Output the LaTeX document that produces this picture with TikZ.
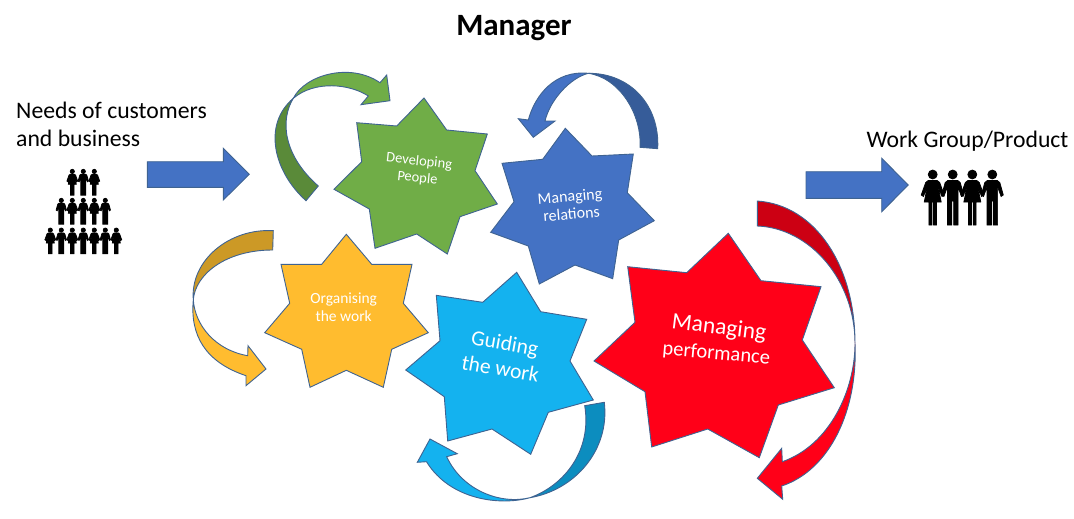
\documentclass[tikz,border=0pt]{standalone}
\usepackage{fontspec}
\setmainfont{Carlito}
\definecolor{edgeblue}{HTML}{3F6391}
\definecolor{leafgreen}{HTML}{70AD47}
\definecolor{leafdark}{HTML}{5A8A39}
\definecolor{seablue}{HTML}{4472C4}
\definecolor{seadark}{HTML}{365C99}
\definecolor{sunyellow}{HTML}{FFBC2F}
\definecolor{sundark}{HTML}{CC9926}
\definecolor{skyblue}{HTML}{14B2EF}
\definecolor{skydark}{HTML}{0C8DBF}
\definecolor{hotred}{HTML}{FF0018}
\definecolor{hotdark}{HTML}{CC0013}
\tikzset{
  shapeline/.style={draw=edgeblue,line width=0.9pt,line join=miter},
  label/.style={text=white,align=center,inner sep=0pt},
  crowd/.style={scale=0.47,line width=0.75pt},
  woman/.pic={
    \filldraw (0,4.5) circle (4.5);
    \filldraw (-4.5,10.5) -- (4.5,10.5) -- (7,12.5) -- (11.5,25) -- (9.3,26.5) -- (5.5,17) -- (8.5,32) -- (3.8,32)
      -- (3.8,55) -- (0.8,55) -- (0.8,32) -- (-0.8,32) -- (-0.8,55) -- (-3.8,55) -- (-3.8,32) -- (-8.5,32)
      -- (-5.5,17) -- (-9.3,26.5) -- (-11.5,25) -- (-7,12.5) -- cycle;
  },
  man/.pic={
    \filldraw (0,4.5) circle (4.5);
    \filldraw (-5,10.5) -- (5,10.5) -- (7.5,12.5) -- (11,25) -- (8.8,26.5) -- (5.3,17) -- (5.3,55) -- (0.9,55)
      -- (0.9,31) -- (-0.9,31) -- (-0.9,55) -- (-5.3,55) -- (-5.3,17) -- (-8.8,26.5) -- (-11,25) -- (-7.5,12.5) -- cycle;
  }
}
\begin{document}
\begin{tikzpicture}[x=1pt,y=-1pt]
\useasboundingbox (0,0) rectangle (1074,519);

\node[font=\fontsize{31}{33}\selectfont\bfseries] (title) at (514,28.5) {Manager};
\node[font=\fontsize{23.7}{28}\selectfont,align=left,anchor=west,inner sep=0pt] (needs) at (16,124) {Needs of customers\\and business};
\node[font=\fontsize{23.7}{28}\selectfont] (group) at (967.5,141) {Work Group/Product};

% straight arrows
\draw[shapeline,fill=seablue] (147.3,161.7) -- (223.3,161.7) -- (223.3,148.3) -- (249.3,174.3) -- (223.3,200) -- (223.3,187.3) -- (147.3,187.3) -- cycle;
\draw[shapeline,fill=seablue] (806,171.7) -- (881.7,171.7) -- (881.7,158.3) -- (908.3,185) -- (881.7,211.7) -- (881.7,198.3) -- (806,198.3) -- cycle;

% people
\foreach \x in {72.3,94.3} \pic[crowd] at (\x,169.3) {woman};
\foreach \x in {83.3} \pic[crowd] at (\x,169.3) {man};
\foreach \x in {72.3,94.3} \pic[crowd] at (\x,198.3) {woman};
\foreach \x in {61.3,83.3,105.3} \pic[crowd] at (\x,198.3) {man};
\foreach \x in {50.3,72.3,94.3,116.3} \pic[crowd] at (\x,228) {woman};
\foreach \x in {61.3,83.3,105.3} \pic[crowd] at (\x,228) {man};
\foreach \x in {932.7,972.3} \pic[line width=0.7pt] at (\x,170) {woman};
\foreach \x in {952.7,992.3} \pic[line width=0.7pt] at (\x,170) {man};

% green star and arrow
\draw[shapeline,fill=leafgreen] (424,98) -- (446.7,130) -- (487.3,134) -- (475,170.7) -- (497.3,204) -- (460,216.7) -- (447.3,254) -- (416.7,234) -- (375,248.3) -- (369.3,209) -- (334,189.3) -- (361.7,161.7) -- (356.7,122.7) -- (396.7,126) -- cycle;
\node[label,font=\fontsize{14.5}{17}\selectfont,rotate=-6] (people) at (418.3,170) {Developing\\People};
\draw[shapeline,fill=leafdark] (306,200.7) .. controls (274,172) and (262,125) .. (293.3,98.3) .. controls (280,120) and (283,155) .. (318.3,186) -- cycle;
\draw[shapeline,fill=leafgreen] (293.3,98.3) .. controls (305,75) and (350,62) .. (380,82.7) -- (386.7,75) -- (390,100.7) -- (361,104.7) -- (368.3,96) .. controls (350,84) and (315,80) .. (293.3,98.3) -- cycle;

% blue star and arrow
\draw[shapeline,fill=seablue] (565.3,128.3) -- (592,156) -- (633.3,154) -- (627.3,192.7) -- (654.3,220.7) -- (618.7,240) -- (612.7,278.7) -- (575,265) -- (539.3,284) -- (528.3,246) -- (490.7,232.3) -- (514,201.7) -- (502,163.3) -- (542.7,159.3) -- cycle;
\node[label,font=\fontsize{16}{18}\selectfont,rotate=5] (relations) at (570.7,205) {Managing\\relations};
\draw[shapeline,fill=seadark] (640,147.3) .. controls (642,115) and (620,78) .. (588.3,73.3) .. controls (630,73) and (660,105) .. (657.7,148.7) -- cycle;
\draw[shapeline,fill=seablue] (588.3,73.3) .. controls (555,70) and (535,95) .. (528.3,120) -- (518.3,118.7) -- (533.3,137.3) -- (555,121) -- (545,121) .. controls (550,100) and (570,78) .. (588.3,73.3) -- cycle;

% yellow star and arrow
\draw[shapeline,fill=sunyellow] (346.3,234.3) -- (371.7,264.3) -- (412,264.3) -- (403.3,303.3) -- (428.3,332.7) -- (391.7,349.3) -- (383.3,387.3) -- (346.3,370.3) -- (310,387.3) -- (301.7,349.3) -- (264.7,332.7) -- (289.7,303.3) -- (281,264.3) -- (321.7,264.3) -- cycle;
\node[label,font=\fontsize{15.5}{18}\selectfont] (work) at (343.7,307.3) {Organising\\the work};
\draw[shapeline,fill=sundark] (273.3,230.7) .. controls (230,228) and (190,260) .. (193.3,300) .. controls (195,275) and (225,250) .. (272.7,250) -- cycle;
\draw[shapeline,fill=sunyellow] (193.3,300) .. controls (190,335) and (205,362) .. (246,375.7) -- (246,385.7) -- (266,369) -- (248,345.7) -- (247.7,355.7) .. controls (215,350) and (195,325) .. (193.3,300) -- cycle;

% light blue star and arrow
\draw[shapeline,fill=skyblue] (516.7,272.3) -- (540.7,311.7) -- (586.7,319.3) -- (570,361) -- (593.3,400) -- (548.3,412.3) -- (530.7,454.3) -- (492,429) -- (447.7,441) -- (444.3,396.7) -- (405.7,370) -- (440,340.7) -- (436.3,295.3) -- (482.7,302.3) -- cycle;
\node[label,font=\fontsize{21.5}{26}\selectfont,rotate=-10] (guiding) at (502.7,355.7) {Guiding\\the work};
\draw[shapeline,fill=skydark] (604.3,402.3) .. controls (610,450) and (575,490) .. (530,497.7) .. controls (565,485) and (592,450) .. (584.7,405.7) -- cycle;
\draw[shapeline,fill=skyblue] (530,497.7) .. controls (500,506) and (450,500) .. (426.5,461.7) -- (417.3,462.3) -- (430,439) -- (457.3,453.7) -- (446.7,456.7) .. controls (462,490) and (500,505) .. (530,497.7) -- cycle;

% red star and arrow
\draw[shapeline,fill=hotred] (728.3,233.3) -- (761,280.7) -- (821,286.7) -- (802.3,340) -- (834.3,387.7) -- (778.3,405) -- (759.3,457.7) -- (707.7,429) -- (651.7,447) -- (645,391.7) -- (594,361) -- (635,322.3) -- (627.7,266.7) -- (686.7,272.7) -- cycle;
\node[label,font=\fontsize{23.5}{26}\selectfont,rotate=-7] (managing) at (719,328.3) {Managing};
\node[label,font=\fontsize{20.5}{24}\selectfont,rotate=-5] (performance) at (716.3,354) {performance};
\draw[shapeline,fill=hotdark] (757.3,201) .. controls (815,205) and (855,265) .. (855,343.3) .. controls (855,280) and (810,228) .. (757.3,226) -- cycle;
\draw[shapeline,fill=hotred] (855,343.3) .. controls (858,410) and (830,470) .. (781.7,486) -- (782.7,499.3) -- (757.3,478.3) -- (781.7,448.3) -- (782.3,461.7) .. controls (830,445) and (855,390) .. (855,343.3) -- cycle;
\end{tikzpicture}
\end{document}
